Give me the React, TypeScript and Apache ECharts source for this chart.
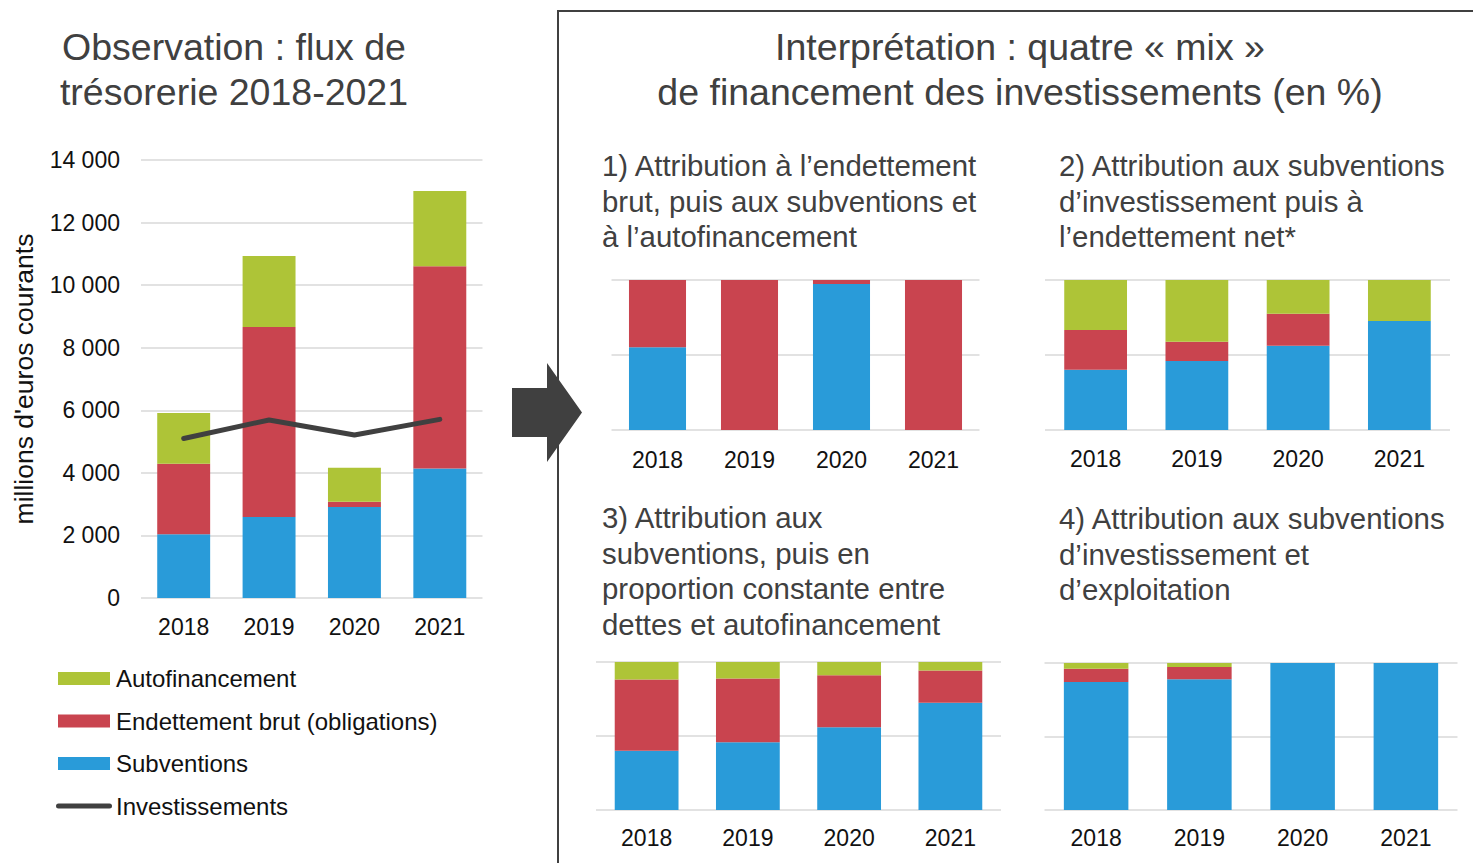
import React, { useEffect, useRef } from 'react';
import * as echarts from 'echarts';

// ---------- Data ----------
const years = ['2018', '2019', '2020', '2021'];

// Observation : flux de trésorerie (millions d'euros courants)
const subventions = [2040, 2590, 2910, 4140];
const endettement = [2250, 6070, 170, 6460];
const autofinancement = [1620, 2270, 1080, 2410];
const investissements = [5100, 5690, 5210, 5710];
const obsMin = 0;
const obsMax = 14000;
const obsStep = 2000;

// Mix (en %)
const mix1Sub = [55.2, 0, 97.3, 0];
const mix1Dette = [44.8, 100, 2.7, 100];
const mix1Auto = [0, 0, 0, 0];

const mix2Sub = [40.2, 46.0, 56.2, 72.7];
const mix2Dette = [26.4, 12.9, 21.3, 0];
const mix2Auto = [33.4, 41.1, 22.5, 27.3];

const mix3Sub = [40.0, 45.7, 55.9, 72.4];
const mix3Dette = [48.2, 43.2, 35.1, 21.9];
const mix3Auto = [11.8, 11.1, 9.0, 5.7];

const mix4Sub = [87.1, 88.9, 100, 100];
const mix4Dette = [9.0, 8.4, 0, 0];
const mix4Auto = [3.9, 2.7, 0, 0];

const legendNames = ['Autofinancement', 'Endettement brut (obligations)', 'Subventions', 'Investissements'];

const leftTitle = 'Observation : flux de\ntrésorerie 2018-2021';
const rightTitle = 'Interprétation : quatre « mix »\nde financement des investissements (en %)';
const yAxisName = "millions d'euros courants";
const sub1 = "1) Attribution à l’endettement\nbrut, puis aux subventions et\nà l’autofinancement";
const sub2 = "2) Attribution aux subventions\nd’investissement puis à\nl’endettement net*";
const sub3 = "3) Attribution aux\nsubventions, puis en\nproportion constante entre\ndettes et autofinancement";
const sub4 = "4) Attribution aux subventions\nd’investissement et\nd’exploitation";

// ---------- Styles ----------
const GREEN = '#AEC437';
const RED = '#C9444F';
const BLUE = '#299BD9';
const DARK = '#404040';
const GRID = '#D9D9D9';
const FONT = '"Liberation Sans", Arial, sans-serif';

const fmt = (v: number) => String(v).replace(/\B(?=(\d{3})+(?!\d))/g, ' ');

export default function App() {
  const ref = useRef<HTMLDivElement>(null);

  useEffect(() => {
    if (!ref.current) return;
    const chart = echarts.init(ref.current, null, { renderer: 'svg' });

    const grids = [
      { left: 141, top: 160, width: 341.5, height: 438 },
      { left: 611.5, top: 280, width: 368, height: 150 },
      { left: 1045, top: 280, width: 405, height: 150 },
      { left: 596, top: 662, width: 405, height: 148 },
      { left: 1044.5, top: 663, width: 413, height: 147 },
    ];
    const labelMargins = [17, 18, 17, 16, 16];
    const barWidths = ['62%', '62%', '62%', '63%', '62.5%'];

    const xAxes = grids.map((_, i) => ({
      type: 'category',
      gridIndex: i,
      data: years,
      axisLine: { show: false },
      axisTick: { show: false },
      axisLabel: { color: '#111', fontSize: 23, fontFamily: FONT, margin: labelMargins[i] },
    }));

    const yAxes = grids.map((_, i) =>
      i === 0
        ? {
            type: 'value',
            gridIndex: 0,
            min: obsMin,
            max: obsMax,
            interval: obsStep,
            axisLine: { show: false },
            axisTick: { show: false },
            axisLabel: { color: '#111', fontSize: 23, fontFamily: FONT, margin: 21, formatter: (v: number) => fmt(v) },
            splitLine: { lineStyle: { color: GRID, width: 1.5 } },
          }
        : {
            type: 'value',
            gridIndex: i,
            min: 0,
            max: 100,
            interval: 50,
            axisLine: { show: false },
            axisTick: { show: false },
            axisLabel: { show: false },
            splitLine: { lineStyle: { color: GRID, width: 1.5 } },
          }
    );

    const bar = (name: string, data: number[], color: string, idx: number) => ({
      name,
      type: 'bar',
      stack: 's' + idx,
      xAxisIndex: idx,
      yAxisIndex: idx,
      data,
      barWidth: barWidths[idx],
      itemStyle: { color },
      emphasis: { disabled: true },
    });

    const mixes = [
      [mix1Sub, mix1Dette, mix1Auto],
      [mix2Sub, mix2Dette, mix2Auto],
      [mix3Sub, mix3Dette, mix3Auto],
      [mix4Sub, mix4Dette, mix4Auto],
    ];

    const series: any[] = [
      bar('Subventions', subventions, BLUE, 0),
      bar('Endettement brut (obligations)', endettement, RED, 0),
      bar('Autofinancement', autofinancement, GREEN, 0),
      {
        name: 'Investissements',
        type: 'line',
        xAxisIndex: 0,
        yAxisIndex: 0,
        data: investissements,
        symbol: 'none',
        lineStyle: { color: DARK, width: 5, cap: 'round', join: 'round' },
        itemStyle: { color: DARK },
        z: 5,
      },
    ];
    mixes.forEach((m, k) => {
      const i = k + 1;
      series.push(bar(`Subventions (mix ${i})`, m[0], BLUE, i));
      series.push(bar(`Endettement (mix ${i})`, m[1], RED, i));
      series.push(bar(`Autofinancement (mix ${i})`, m[2], GREEN, i));
    });

    const titleStyle = { fill: DARK, font: `37.5px ${FONT}`, textAlign: 'center', textVerticalAlign: 'top', lineHeight: 45 };
    const subStyle = (text: string) => ({ text, fill: DARK, font: `29.4px ${FONT}`, textAlign: 'left', textVerticalAlign: 'top', lineHeight: 35.5 });

    // legend drawn as graphics
    const legendColors = [GREEN, RED, BLUE, DARK];
    const legendY = [678.5, 721, 763.5, 806];
    const legendGraphics: any[] = [];
    legendNames.forEach((name, i) => {
      if (i < 3) {
        legendGraphics.push({
          type: 'rect',
          shape: { x: 58, y: legendY[i] - 6.5, width: 52, height: 13 },
          style: { fill: legendColors[i] },
        });
      } else {
        legendGraphics.push({
          type: 'line',
          shape: { x1: 58.5, y1: legendY[i], x2: 109.5, y2: legendY[i] },
          style: { stroke: DARK, lineWidth: 5, lineCap: 'round' },
        });
      }
      legendGraphics.push({
        type: 'text',
        x: 116,
        y: legendY[i],
        style: { text: name, fill: '#111', font: `24px ${FONT}`, textAlign: 'left', textVerticalAlign: 'middle' },
      });
    });

    chart.setOption({
      animation: false,
      backgroundColor: '#fff',
      grid: grids,
      xAxis: xAxes,
      yAxis: yAxes,
      series,
      graphic: [
        { type: 'text', x: 234, y: 24, style: { ...titleStyle, text: leftTitle } },
        { type: 'text', x: 1020, y: 24, style: { ...titleStyle, text: rightTitle } },
        {
          type: 'text',
          x: 24,
          y: 379,
          rotation: Math.PI / 2,
          style: { text: yAxisName, fill: '#111', font: `26.5px ${FONT}`, textAlign: 'center', textVerticalAlign: 'middle' },
        },
        { type: 'text', x: 602, y: 148, style: subStyle(sub1) },
        { type: 'text', x: 1059, y: 148, style: subStyle(sub2) },
        { type: 'text', x: 602, y: 500, style: subStyle(sub3) },
        { type: 'text', x: 1059, y: 501, style: subStyle(sub4) },
        {
          type: 'polygon',
          shape: { points: [[512, 388], [547, 388], [547, 363], [582, 412.5], [547, 462], [547, 437], [512, 437]] },
          style: { fill: DARK },
        },
        {
          type: 'rect',
          shape: { x: 558, y: 11, width: 1000, height: 1000 },
          style: { fill: 'none', stroke: DARK, lineWidth: 2 },
        },
        ...legendGraphics,
      ],
    } as any);

    return () => chart.dispose();
  }, []);

  return <div ref={ref} style={{ position: 'absolute', left: 0, top: 0, width: 1473, height: 863 }} />;
}
